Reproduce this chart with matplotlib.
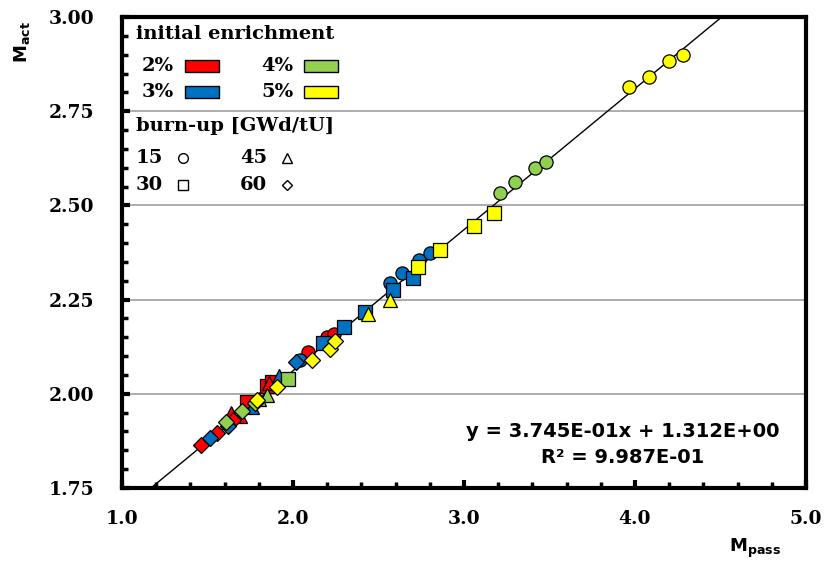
import numpy as np
import matplotlib
matplotlib.use('Agg')
import matplotlib.pyplot as plt
from matplotlib.ticker import MultipleLocator, FormatStrFormatter

# Series: (enrichment, burn-up) -> M_pass, M_act
enrichments = ['2%', '3%', '4%', '5%']
enrich_colors = ['#FF0000', '#0070C0', '#92D050', '#FFFF00']
burnups = ['15', '30', '45', '60']
burnup_markers = ['o', 's', '^', 'D']

# 2 %
red_15_x = [2.09, 2.20, 2.24]
red_15_y = [2.112, 2.150, 2.160]
red_30_x = [1.73, 1.85, 1.88]
red_30_y = [1.978, 2.020, 2.030]
red_45_x = [1.64, 1.69, 1.86]
red_45_y = [1.948, 1.942, 2.028]
red_60_x = [1.46, 1.555, 1.65]
red_60_y = [1.865, 1.896, 1.930]
# 3 %
blue_15_x = [2.04, 2.57, 2.64, 2.74, 2.80]
blue_15_y = [2.090, 2.294, 2.320, 2.355, 2.373]
blue_30_x = [2.175, 2.30, 2.42, 2.585, 2.70]
blue_30_y = [2.135, 2.177, 2.217, 2.275, 2.307]
blue_45_x = [1.76, 1.92]
blue_45_y = [1.965, 2.047]
blue_60_x = [1.515, 1.62, 2.02]
blue_60_y = [1.883, 1.915, 2.085]
# 4 %
green_15_x = [3.21, 3.30, 3.415, 3.48]
green_15_y = [2.533, 2.562, 2.600, 2.615]
green_30_x = [1.97]
green_30_y = [2.040]
green_45_x = [1.80, 1.85]
green_45_y = [1.985, 1.997]
green_60_x = [1.61, 1.70, 1.78]
green_60_y = [1.925, 1.955, 1.975]
# 5 %
yellow_15_x = [3.965, 4.08, 4.20, 4.28]
yellow_15_y = [2.814, 2.840, 2.882, 2.900]
yellow_30_x = [2.73, 2.86, 3.06, 3.175]
yellow_30_y = [2.337, 2.382, 2.445, 2.480]
yellow_45_x = [2.44, 2.567]
yellow_45_y = [2.213, 2.248]
yellow_60_x = [1.79, 1.905, 2.11, 2.216, 2.245]
yellow_60_y = [1.983, 2.018, 2.090, 2.120, 2.140]

series_x = [
    [red_15_x, red_30_x, red_45_x, red_60_x],
    [blue_15_x, blue_30_x, blue_45_x, blue_60_x],
    [green_15_x, green_30_x, green_45_x, green_60_x],
    [yellow_15_x, yellow_30_x, yellow_45_x, yellow_60_x],
]
series_y = [
    [red_15_y, red_30_y, red_45_y, red_60_y],
    [blue_15_y, blue_30_y, blue_45_y, blue_60_y],
    [green_15_y, green_30_y, green_45_y, green_60_y],
    [yellow_15_y, yellow_30_y, yellow_45_y, yellow_60_y],
]

fit_slope = 3.745E-01
fit_icpt = 1.312E+00
fit_r2 = 9.987E-01

SERIF = 'DejaVu Serif'
SANS = 'DejaVu Sans'

fig = plt.figure(figsize=(8.27, 5.62), dpi=100)
ax = fig.add_axes([0.1475, 0.1317, 0.827, 0.838])

ax.set_xlim(1.0, 5.0)
ax.set_ylim(1.75, 3.00)

# gridlines on y only
ax.yaxis.grid(True, which='major', color='#A6A6A6', linewidth=1.3)
ax.set_axisbelow(True)

# trend line
xf = np.array([1.0, 5.0])
ax.plot(xf, fit_slope * xf + fit_icpt, color='black', linewidth=1.0, zorder=2)

# data points
for ei in range(4):
    for bi in range(4):
        ms = 9.5 if burnup_markers[bi] != 'D' else 8.0
        ax.plot(series_x[ei][bi], series_y[ei][bi], linestyle='none',
                marker=burnup_markers[bi], markersize=ms, markerfacecolor=enrich_colors[ei],
                markeredgecolor='black', markeredgewidth=0.9, zorder=3)

# axes styling
for sp in ax.spines.values():
    sp.set_linewidth(3.0)
ax.xaxis.set_major_locator(MultipleLocator(1.0))
ax.xaxis.set_minor_locator(MultipleLocator(0.2))
ax.yaxis.set_major_locator(MultipleLocator(0.25))
ax.yaxis.set_minor_locator(MultipleLocator(0.05))
ax.xaxis.set_major_formatter(FormatStrFormatter('%.1f'))
ax.yaxis.set_major_formatter(FormatStrFormatter('%.2f'))
ax.tick_params(which='major', direction='in', length=6, width=3, top=False, right=False)
ax.tick_params(which='minor', direction='in', length=4, width=2.5, top=False, right=False)
ax.tick_params(axis='x', which='major', pad=16)
ax.tick_params(axis='y', which='major', pad=20)
for lab in ax.get_xticklabels() + ax.get_yticklabels():
    lab.set_fontfamily(SERIF)
    lab.set_fontweight('bold')
    lab.set_fontsize(13.5)

# axis labels
fig.text(0.026, 0.925, r'$\mathbf{M_{act}}$', rotation=90, ha='center', va='center', fontsize=13)
fig.text(0.913, 0.025, r'$\mathbf{M_{pass}}$', ha='center', va='center', fontsize=13)

# equation
ax.text(0.732, 0.119, 'y = %.3Ex + %.3E' % (fit_slope, fit_icpt), transform=ax.transAxes,
        ha='center', va='center', fontsize=14, fontfamily=SANS, fontweight='bold')
ax.text(0.732, 0.064, 'R\u00b2 = %.3E' % fit_r2, transform=ax.transAxes,
        ha='center', va='center', fontsize=14, fontfamily=SANS, fontweight='bold')

# legend drawn by hand (axes coords)
def ax_pt(px, py):
    return ((px - 122) / 684.0, (488 - py) / 471.0)

legfont = dict(fontfamily=SERIF, fontweight='bold', fontsize=14, transform=ax.transAxes, va='center')
ax.text(*ax_pt(136, 34), 'initial enrichment', ha='left', **legfont)
enrich_pos = [(142, 66), (142, 92), (261, 66), (261, 92)]
for (px, py), lab, col in zip(enrich_pos, enrichments, enrich_colors):
    ax.text(*ax_pt(px, py), lab, ha='left', **legfont)
    x0, y0 = ax_pt(px + 43, py + 6)
    w = 34 / 684.0
    h = 12 / 471.0
    ax.add_patch(plt.Rectangle((x0, y0), w, h, transform=ax.transAxes, facecolor=col,
                               edgecolor='black', linewidth=1.0, zorder=4))
ax.text(*ax_pt(136, 126), 'burn-up [GWd/tU]', ha='left', **legfont)
burn_pos = [(136, 158), (136, 185), (240, 158), (240, 185)]
for (px, py), lab, mk in zip(burn_pos, burnups, burnup_markers):
    ax.text(*ax_pt(px, py), lab, ha='left', **legfont)
    mx, my = ax_pt(px + 47, py)
    ax.plot([mx], [my], transform=ax.transAxes, marker=mk, markersize=7 if mk != 'D' else 5.5,
            markerfacecolor='white', markeredgecolor='black', markeredgewidth=1.0,
            linestyle='none', zorder=4)

fig.savefig('out.png', dpi=100)
